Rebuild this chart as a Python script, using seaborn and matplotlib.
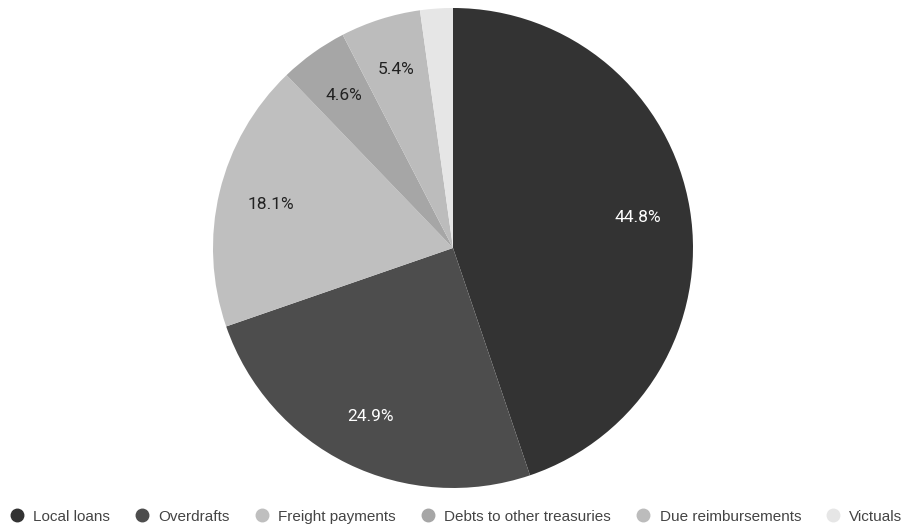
import numpy as np
import matplotlib
matplotlib.use("Agg")
import matplotlib.pyplot as plt
from matplotlib.lines import Line2D
import seaborn as sns

labels = ["Local loans", "Overdrafts", "Freight payments", "Debts to other treasuries",
          "Due reimbursements", "Victuals"]
shares = [44.8, 24.9, 18.1, 4.6, 5.4, 2.2]
colors = ["#333333", "#4d4d4d", "#bfbfbf", "#a6a6a6", "#bcbcbc", "#e6e6e6"]
text_colors = ["white", "white", "#222222", "#222222", "#222222", "#222222"]

sns.set_theme(style="white")
plt.rcParams['font.family'] = ['Roboto', 'DejaVu Sans']

fig = plt.figure(figsize=(9.03, 5.26), dpi=100)
ax = fig.add_axes([213 / 903, 38 / 526, 480 / 903, 480 / 526])

wedges, texts, autotexts = ax.pie(
    shares,
    colors=colors,
    startangle=90,
    counterclock=False,
    autopct=lambda p: f"{p:.1f}%" if p > 3 else "",
    pctdistance=0.78,
    wedgeprops=dict(linewidth=0),
    textprops=dict(fontsize=12.5),
)
for t, c in zip(autotexts, text_colors):
    t.set_color(c)
ax.set_xlim(-1, 1)
ax.set_ylim(-1, 1)
ax.set_aspect("equal")

handles = [Line2D([0], [0], marker="o", linestyle="", markersize=9,
                  markerfacecolor=c, markeredgecolor=c) for c in colors]
fig.legend(handles, labels, loc="lower center", bbox_to_anchor=(0.505, -0.022),
           ncol=6, frameon=False, handlelength=1.0, handletextpad=0.55,
           columnspacing=1.62, labelcolor="#444444",
           prop=dict(family=['Liberation Sans', 'DejaVu Sans'], size=11))

fig.savefig("out.png", dpi=100)
